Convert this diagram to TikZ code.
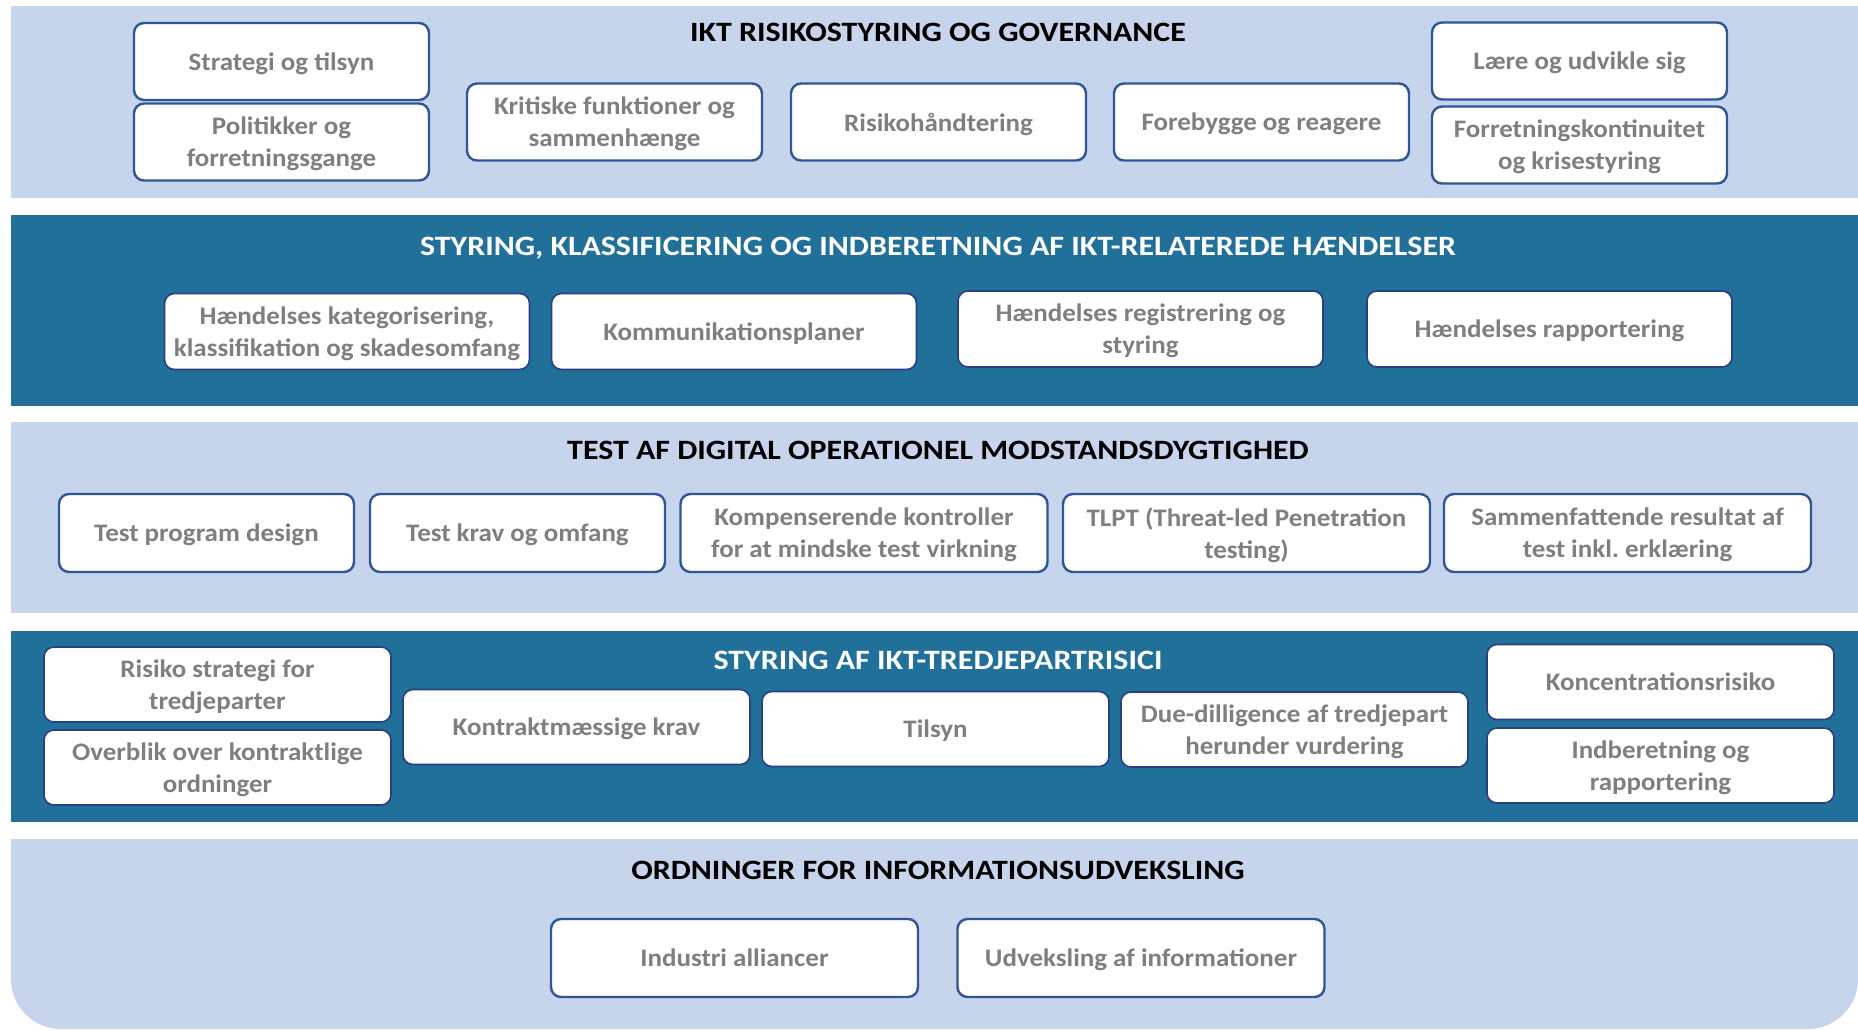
\documentclass[tikz,border=0pt]{standalone}
\usepackage{fontspec}
\setmainfont{Carlito}[FakeStretch=1.07]
\newfontfamily\ttlfamily{Carlito}[FakeStretch=1.14]
\usepackage{tikz}
\usetikzlibrary{positioning}
\frenchspacing

\definecolor{bandlight}{RGB}{198,212,236}
\definecolor{banddark}{RGB}{33,112,153}
\definecolor{boxblue}{RGB}{47,85,151}
\definecolor{boxnavy}{RGB}{40,64,130}
\definecolor{boxgray}{RGB}{127,127,127}

\newcommand\bxfont{\fontsize{12.6}{16}\selectfont\bfseries}
\newcommand\ttlfont{\ttlfamily\fontsize{14}{16}\selectfont\bfseries}

\tikzset{
  boxlight/.style={draw=boxblue, line width=1.2pt, fill=white, rounded corners=5pt,
    font=\bxfont, text=boxgray, align=center, inner sep=1pt, text depth=0pt},
  boxdark/.style={boxlight, draw=boxnavy, line width=0.8pt},
  wa/.style={minimum width=147.5pt, minimum height=38.5pt},
  wb/.style={minimum width=182.5pt, minimum height=38pt},
  wc/.style={minimum width=173.5pt, minimum height=37.5pt},
  wd/.style={minimum width=183.5pt, minimum height=39pt},
  ttl/.style={font=\ttlfont, inner sep=0pt},
}

\begin{document}
\begin{tikzpicture}[x=0.5pt,y=0.5pt,yscale=-1,xscale=1]
\useasboundingbox (0,0) rectangle (1858,1030);

%Shape: Rectangle [band 1]
\fill[bandlight] (11,6) rectangle (1858,198);
%Shape: Rectangle [band 2]
\fill[banddark] (11,215) rectangle (1858,406);
%Shape: Rectangle [band 3]
\fill[bandlight] (11,422) rectangle (1858,613);
%Shape: Rectangle [band 4]
\fill[banddark] (11,631) rectangle (1858,822);
%Shape: Rectangle [band 5, round bottom]
\fill[bandlight, rounded corners=25pt] (11,839) rectangle (1858,1029);
\fill[bandlight] (11,839) rectangle (1858,940);

% Text Node
\node[ttl, text=black] (govtitle) at (938,32) {IKT RISIKOSTYRING OG GOVERNANCE};
\node[boxlight, wa] (strategi) at (281.5,61.5) {Strategi og tilsyn};
\node[boxlight, wa] (politik) at (281.5,142) {Politikker og\\forretningsgange};
\node[boxlight, wa] (kritiske) at (614.5,122) {Kritiske funktioner og\\sammenhænge};
\node[boxlight, wa] (risiko) at (938.5,122) {Risikohåndtering};
\node[boxlight, wa] (forebyg) at (1261.5,122) {Forebygge og reagere};
\node[boxlight, wa] (laere) at (1579.5,61) {Lære og udvikle sig};
\node[boxlight, wa] (kontinuitet) at (1579.5,145) {Forretningskontinuitet\\og krisestyring};

% Text Node
\node[ttl, text=white] (haendtitle) at (938,248) {STYRING, KLASSIFICERING OG INDBERETNING AF IKT-RELATEREDE HÆNDELSER};
\node[boxdark, wb] (kategori) at (347,331.5) {Hændelses kategorisering,\\klassifikation og skadesomfang};
\node[boxdark, wb] (kommunik) at (734,331.5) {Kommunikationsplaner};
\node[boxdark, wb] (registr) at (1140.5,329) {Hændelses registrering og\\styring};
\node[boxdark, wb] (rapport) at (1549.5,329) {Hændelses rapportering};

% Text Node
\node[ttl, text=black] (testtitle) at (938,450) {TEST AF DIGITAL OPERATIONEL MODSTANDSDYGTIGHED};
\node[boxlight, wa, minimum height=39pt] (program) at (206.5,533) {Test program design};
\node[boxlight, wa, minimum height=39pt] (krav) at (517.5,533) {Test krav og omfang};
\node[boxlight, wd] (kompens) at (864,533) {Kompenserende kontroller\\for at mindske test virkning};
\node[boxlight, wd] (tlpt) at (1246.5,533) {TLPT (Threat-led Penetration\\testing)};
\node[boxlight, wd] (samlet) at (1627.5,533) {Sammenfattende resultat af\\test inkl. erklæring};

% Text Node
\node[ttl, text=white] (tredjetitle) at (938,660) {STYRING AF IKT-TREDJEPARTRISICI};
\node[boxdark, wc] (strattredje) at (217.5,684.5) {Risiko strategi for\\tredjeparter};
\node[boxdark, wc] (overblik) at (217.5,767.5) {Overblik over kontraktlige\\ordninger};
\node[boxdark, wc] (kontrakt) at (576.5,727) {Kontraktmæssige krav};
\node[boxdark, wc] (tilsyn) at (935.5,729) {Tilsyn};
\node[boxdark, wc] (due) at (1294.5,729.5) {Due-dilligence af tredjepart\\herunder vurdering};
\node[boxdark, wc] (koncent) at (1660.5,682) {Koncentrationsrisiko};
\node[boxdark, wc] (indberet) at (1660.5,765.5) {Indberetning og\\rapportering};

% Text Node
\node[ttl, text=black] (infotitle) at (938,870) {ORDNINGER FOR INFORMATIONSUDVEKSLING};
\node[boxlight, wd] (alliance) at (734.5,958) {Industri alliancer};
\node[boxlight, wd] (udveksl) at (1141,958) {Udveksling af informationer};
\end{tikzpicture}
\end{document}
